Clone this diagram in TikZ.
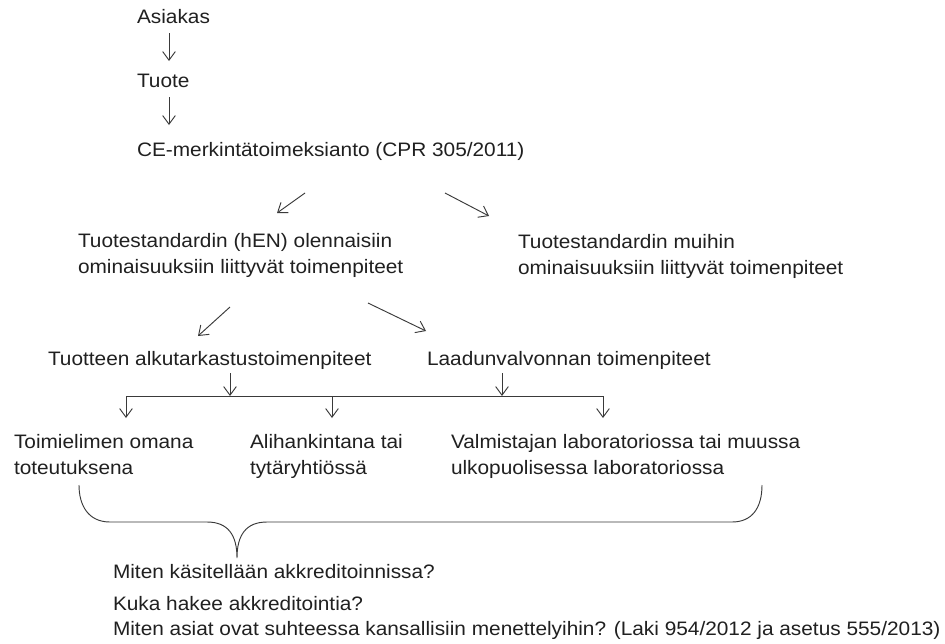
\documentclass[tikz,border=0pt]{standalone}
\usepackage{fontspec}
\setmainfont[FakeStretch=1.07]{Liberation Sans}
\usetikzlibrary{arrows.meta}
\definecolor{txt}{HTML}{202020}
\definecolor{ln}{HTML}{3A3A3A}
\begin{document}
\begin{tikzpicture}[x=0.75pt,y=-0.75pt,
  lbl/.style={anchor=base west,inner sep=0pt,outer sep=0pt,align=left,text=txt,
    font=\fontsize{14.6pt}{19.2pt}\selectfont},
  conn/.style={draw=ln,line width=0.7pt,-{Straight Barb[length=6.5pt,width=9.5pt]}},
  plain/.style={draw=ln,line width=0.7pt}]
\useasboundingbox (0,0) rectangle (945,643);
\fill[white] (0,0) rectangle (945,643);
% texts (multi-line nodes: base = last line)
\node[lbl] (asiakas) at (137,23) {Asiakas};
\node[lbl] (tuote) at (137,87) {Tuote};
\node[lbl] (ce) at (137,156) {CE-merkintätoimeksianto (CPR 305/2011)};
\node[lbl] (hen) at (78,273) {Tuotestandardin (hEN) olennaisiin\\ominaisuuksiin liittyvät toimenpiteet};
\node[lbl] (muut) at (518,274) {Tuotestandardin muihin\\ominaisuuksiin liittyvät toimenpiteet};
\node[lbl] (alku) at (48,365) {Tuotteen alkutarkastustoimenpiteet};
\node[lbl] (laatu) at (427,365) {Laadunvalvonnan toimenpiteet};
\node[lbl] (oma) at (14,474) {Toimielimen omana\\toteutuksena};
\node[lbl] (ali) at (250,474) {Alihankintana tai\\tytäryhtiössä};
\node[lbl] (valm) at (451,474) {Valmistajan laboratoriossa tai muussa\\ulkopuolisessa laboratoriossa};
\node[lbl] (q1) at (113,578) {Miten käsitellään akkreditoinnissa?};
\node[lbl] (q2) at (113,610) {Kuka hakee akkreditointia?};
\node[lbl] (q3) at (113,635) {Miten asiat ovat suhteessa kansallisiin menettelyihin? (Laki 954/2012 ja asetus 555/2013)};
% connector ends
\coordinate (a1s) at (169,33);  \coordinate (a1e) at (169,61);
\coordinate (a2s) at (169,97);  \coordinate (a2e) at (169,125);
\coordinate (a3s) at (305,193); \coordinate (a3e) at (277,213);
\coordinate (a4s) at (445,193); \coordinate (a4e) at (489,216);
\coordinate (a5s) at (230,307); \coordinate (a5e) at (198,336);
\coordinate (a6s) at (368,303); \coordinate (a6e) at (426,331);
\coordinate (a7s) at (230,373); \coordinate (a7e) at (230,396);
\coordinate (a8s) at (502,373); \coordinate (a8e) at (502,396);
\coordinate (hl) at (126,396);  \coordinate (hr) at (603,396);
\coordinate (hm) at (332,396);
\coordinate (d1) at (126,418);  \coordinate (d2) at (332,418); \coordinate (d3) at (603,418);
% connectors
\draw[conn] (a1s) -- (a1e);
\draw[conn] (a2s) -- (a2e);
\draw[conn] (a3s) -- (a3e);
\draw[conn] (a4s) -- (a4e);
\draw[conn] (a5s) -- (a5e);
\draw[conn] (a6s) -- (a6e);
\draw[conn] (a7s) -- (a7e);
\draw[conn] (a8s) -- (a8e);
\draw[plain] (hl) -- (hr);
\draw[conn] (hl) -- (d1);
\draw[conn] (hm) -- (d2);
\draw[conn] (hr) -- (d3);
% brace
\coordinate (bl) at (79,485); \coordinate (br) at (762,485); \coordinate (bc) at (237,558);
\draw[plain] (bl) .. controls (79,505) and (88,522) .. (110,522) -- (207,522)
  .. controls (228,522) and (237,535) .. (bc)
  .. controls (237,535) and (246,522) .. (267,522) -- (732,522)
  .. controls (752,522) and (762,508) .. (br);
\end{tikzpicture}
\end{document}
